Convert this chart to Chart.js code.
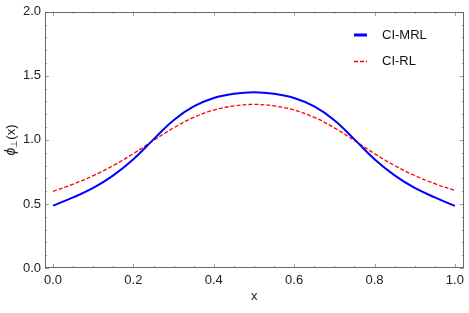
<!DOCTYPE html>
<html>
<head>
<meta charset="utf-8">
<script src="https://cdn.jsdelivr.net/npm/chart.js@4.4.1/dist/chart.umd.min.js"></script>
<style>
  html, body { margin: 0; padding: 0; background: #fff; }
  #wrap { width: 469px; height: 313px; }
</style>
</head>
<body>
<div id="wrap"><canvas id="chart" width="469" height="313"></canvas></div>
<script>
// valeurs
const xValues = [0, 0.05, 0.1, 0.15, 0.2, 0.25, 0.3, 0.35, 0.4, 0.45, 0.5,
                 0.55, 0.6, 0.65, 0.7, 0.75, 0.8, 0.85, 0.9, 0.95, 1];
const mrlValues = [0.487, 0.551, 0.625, 0.723, 0.849, 1.004, 1.154, 1.261, 1.327, 1.360, 1.372,
                   1.360, 1.327, 1.261, 1.154, 1.004, 0.849, 0.723, 0.625, 0.551, 0.485];
const rlValues = [0.598, 0.655, 0.721, 0.800, 0.893, 0.995, 1.094, 1.176, 1.233, 1.265, 1.277,
                  1.265, 1.233, 1.176, 1.094, 0.995, 0.893, 0.800, 0.722, 0.658, 0.605];
const xTicks = [0, 0.2, 0.4, 0.6, 0.8, 1.0];
const yTicks = [0, 0.5, 1.0, 1.5, 2.0];
const seriesNames = ["CI-MRL", "CI-RL"];

const font = "Liberation Sans, Arial, sans-serif";

function points(ys) {
  return xValues.map((x, i) => ({ x: x, y: ys[i] }));
}

// cadre, graduations internes, titre y et légende
const framePlugin = {
  id: "frame",
  afterDraw(chart) {
    const c = chart.ctx;
    const a = chart.chartArea;
    const xs = chart.scales.x;
    const ys = chart.scales.y;
    c.save();
    c.strokeStyle = "#9a9a9a";
    c.lineWidth = 1;
    // graduations x
    for (let i = 0; i <= 20; i++) {
      const v = i * 0.05;
      const major = i % 4 === 0;
      const len = major ? 4 : 2;
      const px = Math.round(xs.getPixelForValue(v)) + 0.5;
      c.beginPath();
      c.moveTo(px, a.bottom); c.lineTo(px, a.bottom - len);
      c.moveTo(px, a.top); c.lineTo(px, a.top + len);
      c.stroke();
    }
    // graduations y
    for (let i = 0; i <= 20; i++) {
      const v = i * 0.1;
      const major = i % 5 === 0;
      const len = major ? 4 : 2;
      const py = Math.round(ys.getPixelForValue(v)) + 0.5;
      c.beginPath();
      c.moveTo(a.left, py); c.lineTo(a.left + len, py);
      c.moveTo(a.right, py); c.lineTo(a.right - len, py);
      c.stroke();
    }
    c.strokeStyle = "#666";
    c.strokeRect(Math.round(a.left) + 0.5, Math.round(a.top) + 0.5,
                 Math.round(a.right - a.left) - 1, Math.round(a.bottom - a.top) - 1);

    // titre y : phi indice perp (x)
    c.fillStyle = "#222";
    c.translate(11, 140);
    c.rotate(-Math.PI / 2);
    c.textBaseline = "middle";
    c.textAlign = "left";
    c.font = "italic 14px " + font;
    const w1 = c.measureText("\u03d5").width;
    c.font = "9px " + font;
    const w2 = c.measureText("\u22a5").width;
    c.font = "13px " + font;
    const w3 = c.measureText("(x)").width;
    let tx = -(w1 + w2 + w3) / 2;
    c.font = "italic 14px " + font;
    c.fillText("\u03d5", tx, 0);
    tx += w1;
    c.font = "9px " + font;
    c.fillText("\u22a5", tx, 4);
    tx += w2;
    c.font = "13px " + font;
    c.fillText("(x)", tx, 0);
    c.restore();

    // légende
    c.save();
    chart.data.datasets.forEach((ds, i) => {
      const y = 35 + i * 26.5;
      c.strokeStyle = ds.borderColor;
      c.lineWidth = i === 0 ? 3 : 1.3;
      c.setLineDash(ds.borderDash || []);
      c.beginPath();
      c.moveTo(354, y); c.lineTo(367, y);
      c.stroke();
      c.setLineDash([]);
      c.fillStyle = "#111";
      c.font = "13px " + font;
      c.textBaseline = "middle";
      c.fillText(ds.label, 382, y);
    });
    c.restore();
  }
};

new Chart(document.getElementById("chart"), {
  type: "line",
  data: {
    datasets: [
      {
        label: seriesNames[0],
        data: points(mrlValues),
        borderColor: "#0000ff",
        borderWidth: 2,
        pointRadius: 0,
        tension: 0.4,
        fill: false
      },
      {
        label: seriesNames[1],
        data: points(rlValues),
        borderColor: "#ff0000",
        borderWidth: 1.3,
        borderDash: [4, 2],
        pointRadius: 0,
        tension: 0.4,
        fill: false
      }
    ]
  },
  options: {
    responsive: false,
    animation: false,
    layout: { padding: { left: 0, right: 3, top: 8, bottom: 0 } },
    plugins: { legend: { display: false }, tooltip: { enabled: false } },
    scales: {
      x: {
        type: "linear",
        min: -0.02,
        max: 1.022,
        afterBuildTicks: (s) => { s.ticks = xTicks.map(v => ({ value: v })); },
        afterFit: (s) => { s.height = 45; },
        ticks: {
          autoSkip: false,
          maxRotation: 0,
          padding: 5,
          color: "#222",
          font: { family: font, size: 13 },
          callback: (v) => v.toFixed(1)
        },
        grid: { display: false, drawTicks: false },
        border: { display: false },
        title: {
          display: true,
          text: "x",
          color: "#222",
          font: { family: font, size: 13 },
          padding: { top: 0, bottom: 9 }
        }
      },
      y: {
        type: "linear",
        min: 0,
        max: 2,
        afterBuildTicks: (s) => { s.ticks = yTicks.map(v => ({ value: v })); },
        afterFit: (s) => { s.width = 45; },
        ticks: {
          padding: 4,
          color: "#222",
          font: { family: font, size: 13 },
          callback: (v) => v.toFixed(1)
        },
        grid: { display: false, drawTicks: false },
        border: { display: false }
      }
    }
  },
  plugins: [framePlugin]
});
</script>
</body>
</html>
